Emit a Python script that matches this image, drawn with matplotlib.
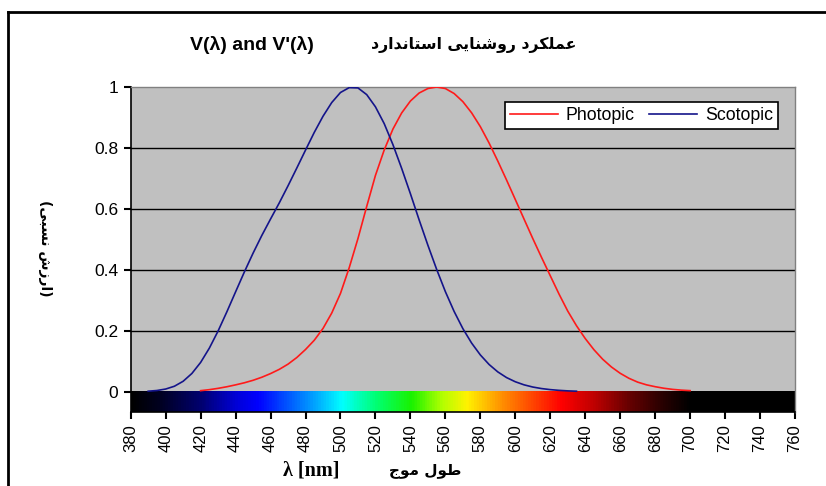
import numpy as np
import matplotlib
matplotlib.use('Agg')
import matplotlib.pyplot as plt
from matplotlib.colors import LinearSegmentedColormap

# photopic V(lambda)
photopic_nm = [420, 425, 430, 435, 440, 445, 450, 455, 460, 465, 470, 475, 480, 485, 490, 495,
               500, 505, 510, 515, 520, 525, 530, 535, 540, 545, 550, 555, 560, 565, 570, 575,
               580, 585, 590, 595, 600, 605, 610, 615, 620, 625, 630, 635, 640, 645, 650, 655,
               660, 665, 670, 675, 680, 685, 690, 695, 700]
photopic = [0.004, 0.0073, 0.0116, 0.0168, 0.023, 0.0298, 0.038, 0.048, 0.060, 0.0739, 0.091,
            0.1126, 0.139, 0.1693, 0.208, 0.2586, 0.323, 0.4073, 0.503, 0.6082, 0.710, 0.7932,
            0.862, 0.9149, 0.954, 0.9803, 0.995, 1.000, 0.995, 0.9786, 0.952, 0.9154, 0.870,
            0.8163, 0.757, 0.6949, 0.631, 0.5668, 0.503, 0.4412, 0.381, 0.321, 0.265, 0.217,
            0.175, 0.1382, 0.107, 0.0816, 0.061, 0.0446, 0.032, 0.0232, 0.017, 0.0119, 0.0082,
            0.0057, 0.0041]

# scotopic V'(lambda)
scotopic_nm = [390, 395, 400, 405, 410, 415, 420, 425, 430, 435, 440, 445, 450, 455, 460, 465,
               470, 475, 480, 485, 490, 495, 500, 505, 510, 515, 520, 525, 530, 535, 540, 545,
               550, 555, 560, 565, 570, 575, 580, 585, 590, 595, 600, 605, 610, 615, 620, 625,
               630, 635]
scotopic = [0.0022, 0.0045, 0.0093, 0.0185, 0.0348, 0.0604, 0.0966, 0.1436, 0.1998, 0.2625,
            0.3281, 0.3931, 0.455, 0.513, 0.567, 0.620, 0.676, 0.734, 0.793, 0.851, 0.904,
            0.949, 0.982, 0.998, 0.997, 0.975, 0.935, 0.880, 0.811, 0.733, 0.650, 0.564, 0.481,
            0.402, 0.3288, 0.2639, 0.2076, 0.1602, 0.1212, 0.0899, 0.0655, 0.0469, 0.0332,
            0.0231, 0.0159, 0.0109, 0.0074, 0.005, 0.0033, 0.0022]

# colour strip under the plot: wavelength stops and colours
spectrum_nm = [380, 395, 420, 440, 452, 470, 485, 500, 520, 540, 558, 572, 590, 608, 626, 645,
               665, 685, 700, 760]
spectrum_rgb = [(0, 0, 0), (0, 0, 0.12), (0, 0, 0.45), (0, 0, 0.85), (0, 0, 1), (0, 0.35, 1),
                (0, 0.65, 1), (0, 1, 1), (0, 1, 0.45), (0.1, 0.95, 0), (0.7, 1, 0), (1, 0.95, 0),
                (1, 0.6, 0), (1, 0.3, 0), (1, 0, 0), (0.75, 0, 0), (0.4, 0, 0), (0.15, 0, 0),
                (0, 0, 0), (0, 0, 0)]

x_ticks = list(range(380, 761, 20))
y_ticks = [0, 0.2, 0.4, 0.6, 0.8, 1]
y_ticklabels = ['0', '0.2', '0.4', '0.6', '0.8', '1']

title_latin = "V(\u03bb) and V'(\u03bb)"
title_fa = 'عملکرد روشنایی استاندارد'
xlabel_latin = '\u03bb [nm]'
xlabel_fa = 'طول موج'
ylabel_fa = '(ارزش نسبی)'

# --- minimal Persian shaping (matplotlib has no bidi / joining) ---
FORMS = {  # isolated, final, initial, medial
    'ا': ('\ufe8d', '\ufe8e', None, None),
    'ب': ('\ufe8f', '\ufe90', '\ufe91', '\ufe92'),
    'ت': ('\ufe95', '\ufe96', '\ufe97', '\ufe98'),
    'ج': ('\ufe9d', '\ufe9e', '\ufe9f', '\ufea0'),
    'د': ('\ufea9', '\ufeaa', None, None),
    'ر': ('\ufead', '\ufeae', None, None),
    'ز': ('\ufeaf', '\ufeb0', None, None),
    'س': ('\ufeb1', '\ufeb2', '\ufeb3', '\ufeb4'),
    'ش': ('\ufeb5', '\ufeb6', '\ufeb7', '\ufeb8'),
    'ط': ('\ufec1', '\ufec2', '\ufec3', '\ufec4'),
    'ع': ('\ufec9', '\ufeca', '\ufecb', '\ufecc'),
    'ک': ('\ufed9', '\ufeda', '\ufedb', '\ufedc'),
    'ل': ('\ufedd', '\ufede', '\ufedf', '\ufee0'),
    'م': ('\ufee1', '\ufee2', '\ufee3', '\ufee4'),
    'ن': ('\ufee5', '\ufee6', '\ufee7', '\ufee8'),
    'و': ('\ufeed', '\ufeee', None, None),
    'ی': ('\ufeef', '\ufef0', '\ufef3', '\ufef4'),
}
MIRROR = {'(': ')', ')': '('}


def shape_fa(text):
    out = []
    for i, ch in enumerate(text):
        if ch not in FORMS:
            out.append(MIRROR.get(ch, ch))
            continue
        prev = text[i - 1] if i > 0 else ''
        nxt = text[i + 1] if i + 1 < len(text) else ''
        join_prev = prev in FORMS and FORMS[prev][2] is not None
        join_next = nxt in FORMS and FORMS[ch][2] is not None
        iso, fin, ini, med = FORMS[ch]
        if join_prev and join_next:
            out.append(med)
        elif join_prev:
            out.append(fin)
        elif join_next:
            out.append(ini)
        else:
            out.append(iso)
    return ''.join(reversed(out))


FONT = ['Liberation Sans', 'DejaVu Sans']

fig = plt.figure(figsize=(8.26, 4.86), dpi=100)
fig.patch.set_facecolor('white')

ymin = -0.066
ax = fig.add_axes([130.7 / 826, 1 - 412 / 486, 664.3 / 826, 325 / 486])
ax.set_facecolor('#c0c0c0')

cmap = LinearSegmentedColormap.from_list(
    'spectrum', [((w - 380) / 380.0, c) for w, c in zip(spectrum_nm, spectrum_rgb)])
ax.imshow(np.linspace(380, 760, 760).reshape(1, -1), cmap=cmap, vmin=380, vmax=760,
          extent=[380, 760, ymin, 0], aspect='auto', zorder=1)

for yv in y_ticks[1:-1]:
    ax.axhline(yv, color='black', lw=1.0, zorder=2)

ax.plot(photopic_nm, photopic, color='#ff1a1a', lw=1.2, label='Photopic', zorder=3)
ax.plot(scotopic_nm, scotopic, color='#14148a', lw=1.2, label='Scotopic', zorder=3)

ax.set_xlim(380, 760)
ax.set_ylim(ymin, 1)
ax.set_xticks(x_ticks)
ax.set_xticklabels([str(v) for v in x_ticks], rotation=90, fontsize=12, family=FONT)
ax.set_yticks(y_ticks)
ax.set_yticklabels(y_ticklabels, fontsize=12.5, family=FONT)
ax.tick_params(axis='both', direction='out', length=5, width=1.5, color='black', pad=4)

for side in ('top', 'right'):
    ax.spines[side].set_color('#808080')
    ax.spines[side].set_linewidth(1.0)
ax.spines['left'].set_color('black')
ax.spines['left'].set_linewidth(1.2)
ax.spines['bottom'].set_color('black')
ax.spines['bottom'].set_linewidth(1.2)

leg = ax.legend(loc='upper right', bbox_to_anchor=(0.9744, 0.9538), borderaxespad=0,
                ncol=2, fancybox=False, framealpha=1, edgecolor='black',
                prop={'family': FONT, 'size': 12.8}, handlelength=2.7,
                handletextpad=0.45, columnspacing=0.8, borderpad=0.28)
leg.get_frame().set_linewidth(1.2)

# titles and axis labels
fig.text(190 / 826, 1 - 45 / 486, title_latin, ha='left', va='center', fontsize=14,
         fontweight='bold', family=FONT)
fig.text(576 / 826, 1 - 45 / 486, shape_fa(title_fa), ha='right', va='center', fontsize=11.3,
         fontweight='bold', family=['DejaVu Sans'])
fig.text(283 / 826, 1 - 470 / 486, xlabel_latin, ha='left', va='center', fontsize=14.5,
         fontweight='bold', family=['Liberation Serif', 'DejaVu Serif'])
fig.text(461 / 826, 1 - 470 / 486, shape_fa(xlabel_fa), ha='right', va='center', fontsize=11,
         fontweight='bold', family=['DejaVu Sans'])
fig.text(45 / 826, 1 - 248 / 486, shape_fa(ylabel_fa), ha='center', va='center', fontsize=10,
         fontweight='bold', rotation=-90, family=['DejaVu Sans'])

# outer chart frame
fig.add_artist(plt.Line2D([8 / 826, 1.0], [1 - 12 / 486, 1 - 12 / 486], color='black', lw=2,
                          transform=fig.transFigure))
fig.add_artist(plt.Line2D([8 / 826, 8 / 826], [0.0, 1 - 12 / 486], color='black', lw=2,
                          transform=fig.transFigure))

fig.savefig('out.png', dpi=100)
